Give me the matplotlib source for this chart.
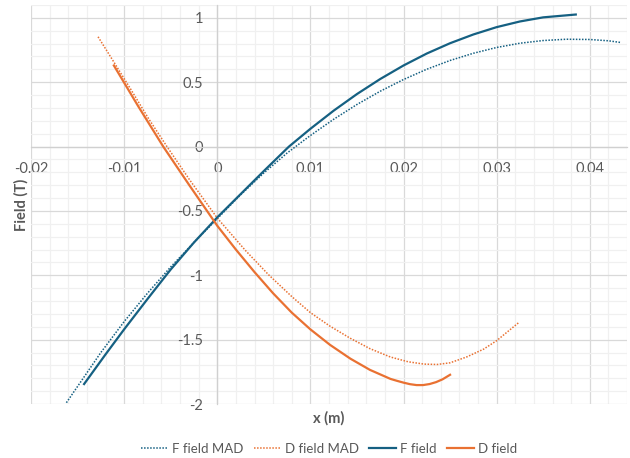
import matplotlib
matplotlib.use('Agg')
import matplotlib.pyplot as plt
from matplotlib.ticker import MultipleLocator, FuncFormatter

# Excel (Office 2023 theme) colours
BLUE = '#156082'
ORANGE = '#E97132'
TXT = '#595959'

# F field from MAD (dotted)
f_mad_x = [-0.0162, -0.0125, -0.0100, -0.0075, -0.0050, -0.0025, 0.0000, 0.0025, 0.0050, 0.0075,
           0.0100, 0.0125, 0.0150, 0.0175, 0.0200, 0.0225, 0.0250, 0.0275, 0.0300, 0.0325,
           0.0350, 0.0375, 0.0400, 0.0420, 0.0434]
f_mad_y = [-1.99, -1.60, -1.36, -1.14, -0.935, -0.745, -0.56, -0.375, -0.205, -0.05,
           0.086, 0.212, 0.327, 0.430, 0.521, 0.601, 0.669, 0.725, 0.770, 0.803,
           0.824, 0.834, 0.832, 0.822, 0.808]

# D field from MAD (dotted)
d_mad_x = [-0.0128, -0.0110, -0.0092, -0.0074, -0.0054, -0.0030, 0.0000, 0.0030, 0.0055, 0.0080,
           0.0100, 0.0121, 0.0143, 0.0164, 0.0186, 0.0205, 0.0222, 0.0236, 0.0250, 0.0268,
           0.0286, 0.0300, 0.0324]
d_mad_y = [0.853, 0.645, 0.435, 0.22, 0.0, -0.255, -0.555, -0.805, -0.995, -1.165,
           -1.29, -1.395, -1.49, -1.57, -1.635, -1.672, -1.69, -1.693, -1.68, -1.634,
           -1.574, -1.508, -1.366]

# F field (solid)
f_x = [-0.0143, -0.0120, -0.0100, -0.0075, -0.0050, -0.0025, 0.0000, 0.0025, 0.0050, 0.0077,
       0.0100, 0.0125, 0.0150, 0.0175, 0.0200, 0.0225, 0.0250, 0.0275, 0.0300, 0.0325,
       0.0350, 0.0385]
f_y = [-1.845, -1.615, -1.42, -1.185, -0.955, -0.745, -0.55, -0.37, -0.19, 0.0,
       0.138, 0.279, 0.408, 0.525, 0.630, 0.723, 0.803, 0.871, 0.928, 0.972,
       1.004, 1.026]

# D field (solid)
d_x = [-0.0111, -0.0085, -0.0058, -0.0030, 0.0000, 0.0020, 0.0040, 0.0060, 0.0080, 0.0100,
       0.0121, 0.0143, 0.0164, 0.0186, 0.0193, 0.0200, 0.0207, 0.0214, 0.0221, 0.0228,
       0.0235, 0.0242, 0.0250]
d_y = [0.63, 0.315, 0.0, -0.30, -0.615, -0.80, -0.975, -1.14, -1.29, -1.42,
       -1.54, -1.648, -1.735, -1.805, -1.820, -1.834, -1.846, -1.853, -1.853, -1.845,
       -1.830, -1.808, -1.773]

plt.rcParams['font.family'] = ['Lato', 'DejaVu Sans']
plt.rcParams['axes.unicode_minus'] = False

fig = plt.figure(figsize=(6.3, 4.58), dpi=100)
ax = fig.add_axes([31 / 630, 1 - 404 / 458, 596 / 630, 399 / 458])

dot = (0, (1, 1))
ax.plot(f_mad_x, f_mad_y, color=BLUE, lw=1.1, ls=dot, label='F field MAD', zorder=3)
ax.plot(d_mad_x, d_mad_y, color=ORANGE, lw=1.1, ls=dot, label='D field MAD', zorder=3)
ax.plot(f_x, f_y, color=BLUE, lw=1.6, label='F field', zorder=4)
ax.plot(d_x, d_y, color=ORANGE, lw=1.6, label='D field', zorder=4)

ax.set_xlim(-0.02, 0.044)
ax.set_ylim(-2, 1.1)
ax.xaxis.set_major_locator(MultipleLocator(0.01))
ax.xaxis.set_minor_locator(MultipleLocator(0.002))
ax.yaxis.set_major_locator(MultipleLocator(0.5))
ax.yaxis.set_minor_locator(MultipleLocator(0.1))

fmt = FuncFormatter(lambda v, p: '%g' % (round(v, 6) + 0.0))
ax.xaxis.set_major_formatter(fmt)
ax.yaxis.set_major_formatter(fmt)

ax.grid(which='major', color='#D9D9D9', lw=0.9)
ax.grid(which='minor', color='#F0F0F0', lw=0.9)
ax.set_axisbelow(True)

for s in ['top', 'right']:
    ax.spines[s].set_visible(False)
for s in ['left', 'bottom']:
    ax.spines[s].set_position(('data', 0))
    ax.spines[s].set_color('#D0D0D0')
    ax.spines[s].set_linewidth(0.9)

ax.tick_params(which='both', length=0, labelsize=10.5, labelcolor=TXT)
ax.tick_params(axis='x', pad=11)
ax.tick_params(axis='y', pad=10)

ax.set_xlabel('x (m)', fontsize=10.5, fontweight='bold', color=TXT)
ax.xaxis.set_label_coords(0.5, -0.018)
ax.set_ylabel('Field (T)', fontsize=10.5, fontweight='bold', color=TXT)
ax.yaxis.set_label_coords(-0.004, 0.5)

ax.legend(loc='center', bbox_to_anchor=(0.5, -0.113), ncol=4, frameon=False, fontsize=9.5,
          handlelength=2.05, handletextpad=0.3, columnspacing=0.8, labelcolor=TXT)

fig.savefig('out.png', dpi=100)
